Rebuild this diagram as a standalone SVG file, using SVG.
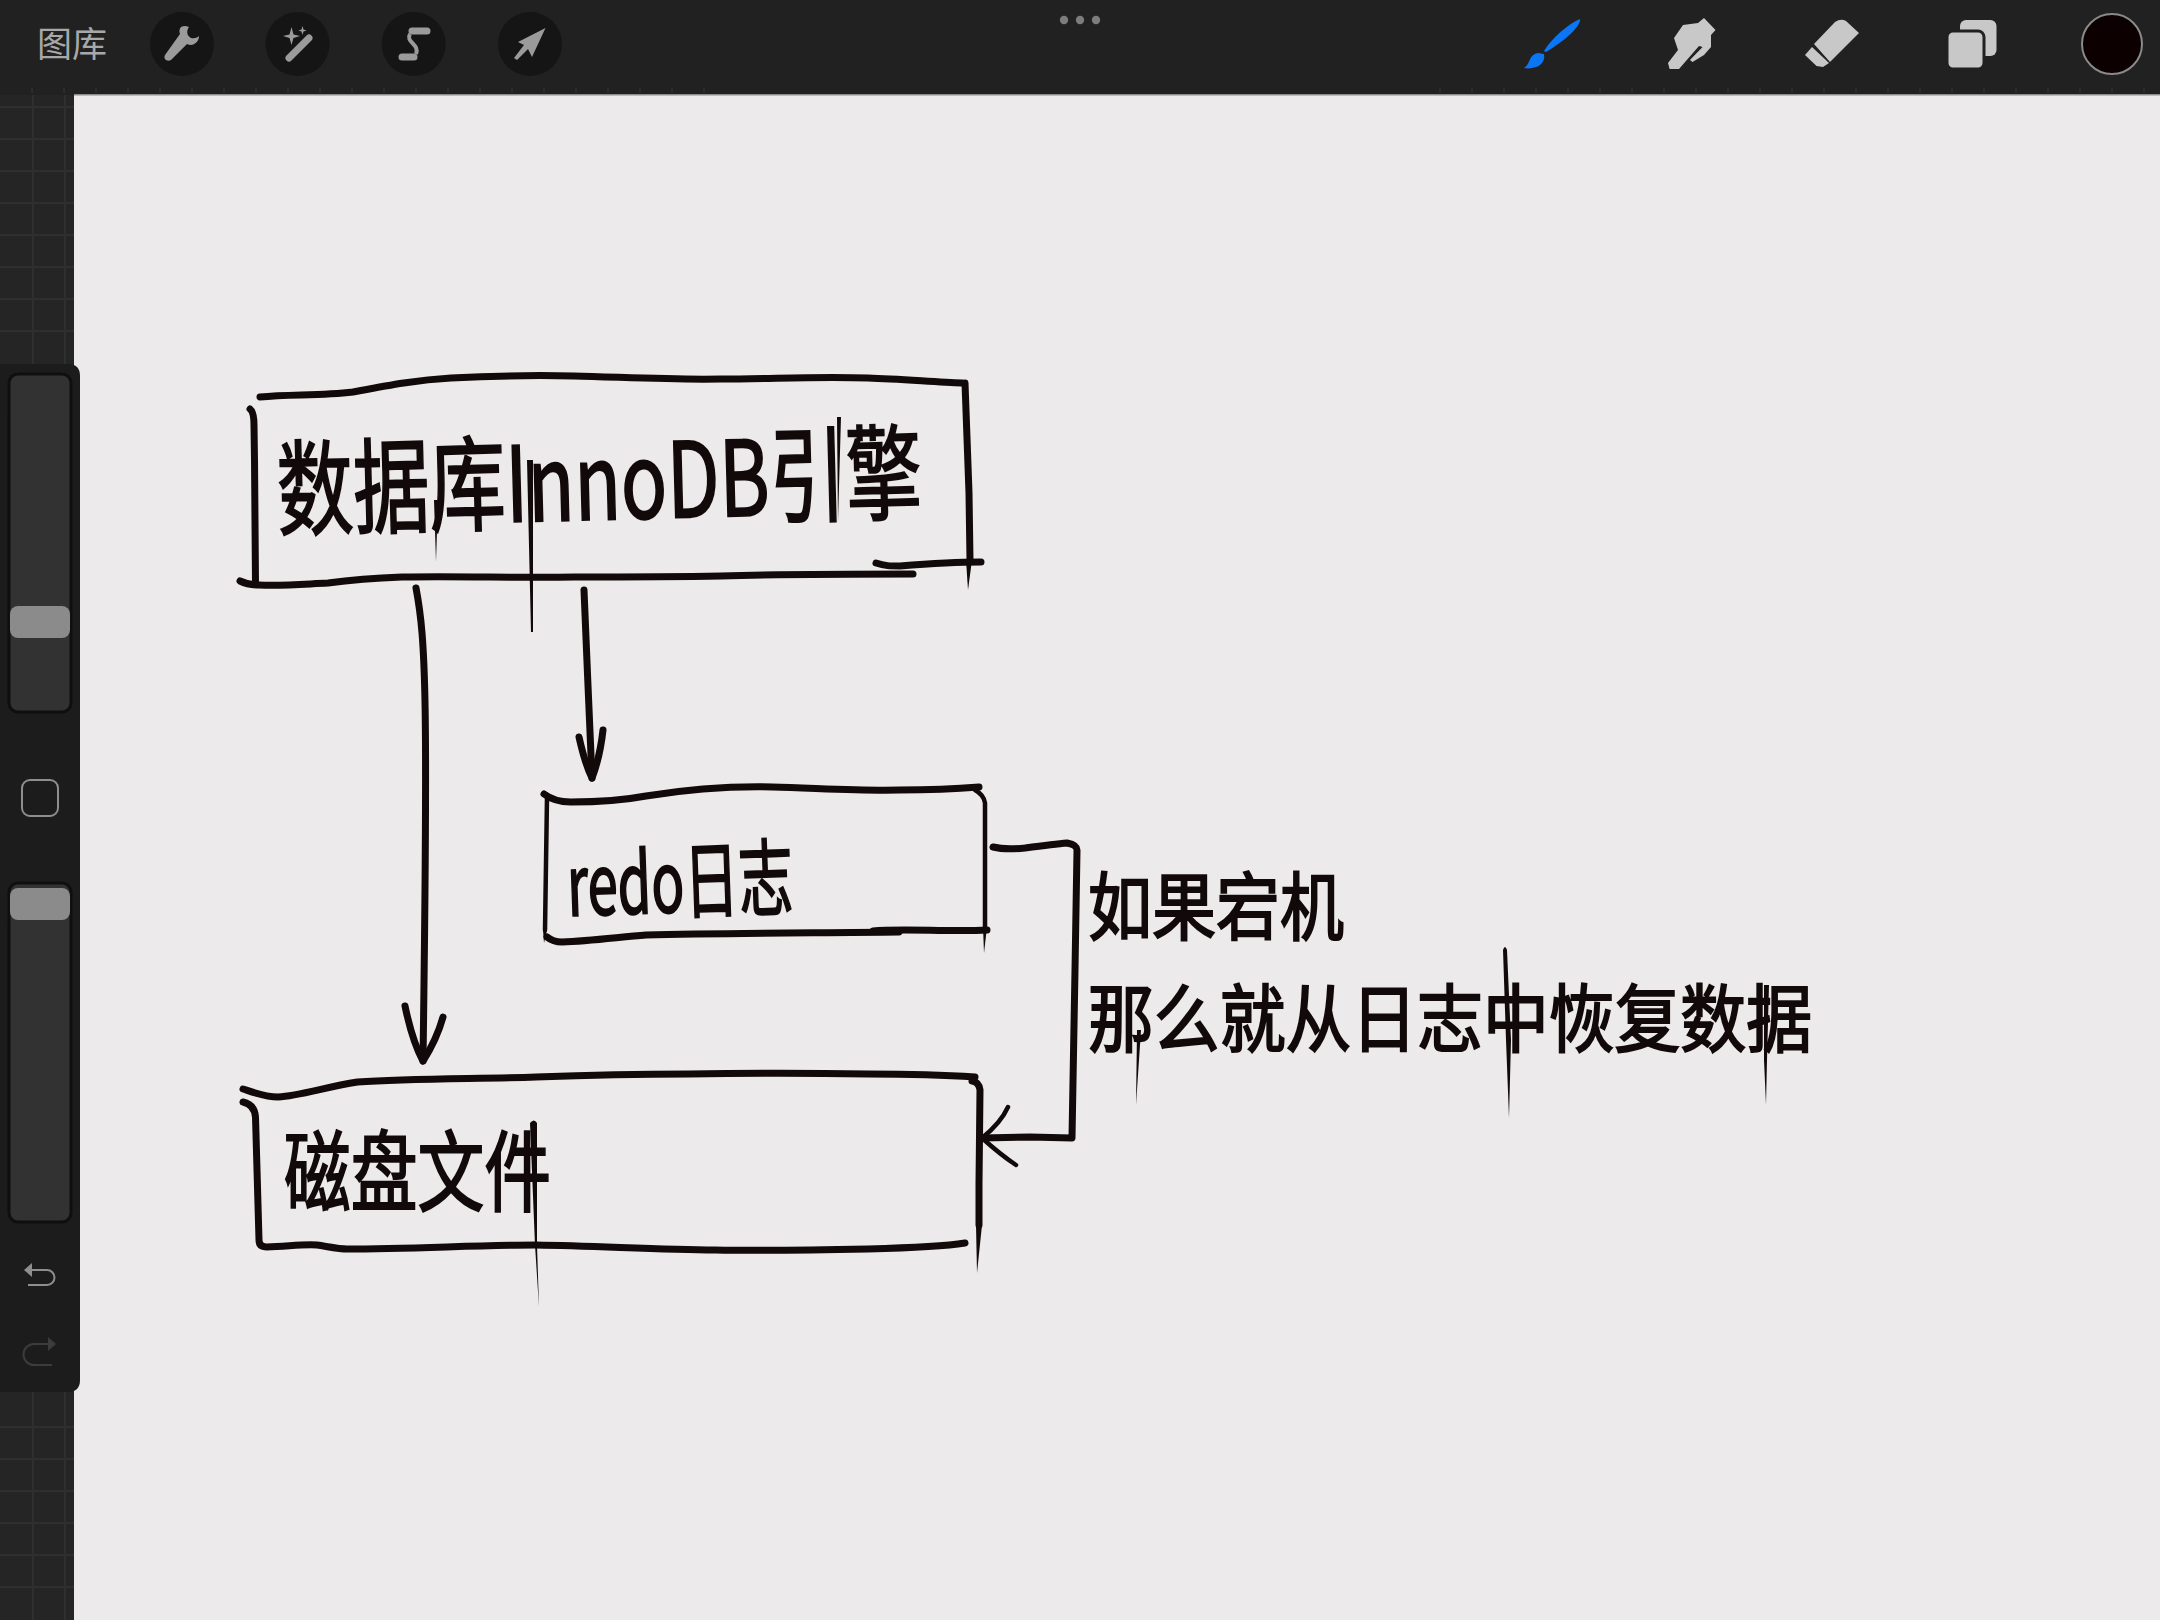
<svg xmlns="http://www.w3.org/2000/svg" width="2160" height="1620" viewBox="0 0 2160 1620">
<style>
.ink{fill:none;stroke:#120a0a;stroke-width:7;stroke-linecap:round;stroke-linejoin:round}
.thin{stroke-width:4.500}
.tail{fill:#120a0a}
.hand{font-family:"Noto Sans CJK SC","Noto Sans",sans-serif;font-weight:400;fill:#120a0a;stroke:#120a0a;stroke-width:2}
.grid{stroke:#2f2f2f;stroke-width:2;fill:none}
.tick{stroke:#303030;stroke-width:1.5;fill:none}
.ico{fill:#9b9b9b}
.btn{fill:#151515}
.lite{fill:#c8c8c8}
.track{fill:#323232;stroke:#0f0f0f;stroke-width:3}
.thumb{fill:#8b8b8b}
</style>
<rect width="2160" height="1620" fill="#ecEaEb"/>
<g id="left-strip">
<rect x="0" y="95" width="74" height="1525" fill="#252525"/>
<path class="grid" d="M33 95V1620M65 95V1620M0 107H74M0 139H74M0 171H74M0 203H74M0 235H74M0 267H74M0 299H74M0 331H74M0 1427H74M0 1459H74M0 1491H74M0 1523H74M0 1555H74M0 1587H74"/>
</g>
<g id="top-bar">
<rect width="2160" height="95" fill="#212121"/>
<rect x="74" y="94" width="2086" height="1.500" fill="#8d8d8d"/>
<path class="tick" d="M32 88V93M64 88V93M96 88V93M128 88V93M160 88V93M192 88V93M224 88V93M256 88V93M288 88V93M320 88V93M352 88V93M384 88V93M416 88V93M448 88V93M480 88V93M512 88V93M544 88V93M576 88V93M608 88V93M640 88V93M672 88V93M704 88V93M1440 88V93M1472 88V93M1504 88V93M1536 88V93M1568 88V93M1600 88V93M1632 88V93M1664 88V93M1696 88V93M1728 88V93M1760 88V93M1792 88V93M1824 88V93M1856 88V93M1888 88V93M1920 88V93M1952 88V93M1984 88V93M2016 88V93M2048 88V93M2080 88V93M2112 88V93M2144 88V93"/>
<text x="37" y="57" font-family="'Noto Sans CJK SC',sans-serif" font-size="35" fill="#a8a8a8">图库</text>
<circle class="btn" cx="182" cy="44" r="32"/>
<path class="ico" d="M165 55L180 34C178 28 182 24 189 27C186 31 187 36 191 38C195 39 198 37 199 36C199 42 193 47 187 44L171 60C167 62 163 59 165 55Z"/>
<circle class="btn" cx="297.500" cy="44" r="32"/>
<path class="ico" d="M291.500 27L293.500 34.500L300 36L293.500 38L291.500 45L289.500 38L283 36L289.500 34.500ZM302.500 26L303.500 29.500L306.500 30.500L303.500 31.500L302.500 35L301.500 31.500L298.500 30.500L301.500 29.500Z"/>
<path d="M289 58L309 38" stroke="#9b9b9b" stroke-width="7" stroke-linecap="round" fill="none"/>
<circle class="btn" cx="413.700" cy="44" r="32"/>
<path d="M412 31H427M402 57H414" stroke="#9b9b9b" stroke-width="7" stroke-linecap="round" fill="none"/>
<path d="M410 34C405 42 420 44 416 54" stroke="#9b9b9b" stroke-width="4" fill="none"/>
<circle class="btn" cx="530" cy="44" r="32"/>
<path class="ico" d="M545.500 28L532 57L528 49L517 60L514 58L524 45L518 42Z"/>
<circle cx="1064" cy="20" r="4.200" fill="#7d7d7d"/><circle cx="1080" cy="20" r="4.200" fill="#7d7d7d"/><circle cx="1096" cy="20" r="4.200" fill="#7d7d7d"/>
<path fill="#0a76f6" d="M1580 19C1581 26 1566 40 1546 52L1544 51C1552 38 1568 24 1580 19ZM1544 54C1546 64 1536 70 1524 68C1531 64 1528 55 1538 53Z"/>
<path class="lite" d="M1704 18L1715.500 30L1711 35L1711 47L1704 55L1692.500 62L1690 60L1702.600 47L1699 46L1679 69L1669.600 69L1668 63L1678 50L1674 38L1683 25L1698 23Z"/>
<path class="lite" d="M1835 22Q1841 18 1846 21L1859 33L1830 62L1814 44ZM1812 47L1829 63L1823 67L1816.500 66L1805 55Z"/>
<rect class="lite" x="1960" y="20" width="36.500" height="36" rx="6"/>
<rect class="lite" x="1947" y="31" width="37" height="38" rx="6" stroke="#212121" stroke-width="3"/>
<circle cx="2112" cy="44" r="30" fill="#0c0000" stroke="#8a8a8a" stroke-width="2"/>
</g>
<g id="side-bar">
<path d="M0 364H68Q80 364 80 376V1380Q80 1392 68 1392H0Z" fill="#1c1c1c"/>
<rect class="track" x="9" y="374" width="62" height="338" rx="9"/>
<rect class="thumb" x="10" y="606" width="60" height="32" rx="8"/>
<rect x="22" y="780" width="36" height="36" rx="8" fill="none" stroke="#8e8e8e" stroke-width="2"/>
<rect class="track" x="9" y="883" width="62" height="339" rx="9"/>
<rect class="thumb" x="10" y="888" width="60" height="32" rx="8"/>
<path d="M32 1263V1277L24 1270Z" fill="#8e8e8e"/>
<path d="M32 1270H47A7.500 7.500 0 0 1 47 1285H28" fill="none" stroke="#8e8e8e" stroke-width="2"/>
<path d="M48 1337V1351L56 1344Z" fill="#3c3c3c"/>
<path d="M48 1344H34A10 10 0 0 0 34 1365H52" fill="none" stroke="#3c3c3c" stroke-width="2"/>
</g>
<g id="connectors">
<path class="ink" d="M416 588C426 640 428 700 423 1061"/>
<path class="ink" d="M405 1006C410 1030 417 1050 423 1061C430 1050 438 1035 443 1017"/>
<path class="ink" d="M584 590C586 650 590 720 592 778"/>
<path class="ink" d="M579 737C583 755 587 768 592 778C597 765 601 748 603 730"/>
<path class="ink" d="M993 847C1005 850 1015 849 1025 848C1040 846 1055 844 1067 843Q1077 845 1077 850L1075 970L1072 1138L1030 1137L982 1138"/>
<path class="ink thin" d="M1008 1107C1003 1118 992 1130 982 1138C992 1147 1004 1157 1016 1165"/>
</g>
<g id="node-innodb">
<path class="ink" d="M260 397C290 394 320 396 353 392C385 386 415 380 451 378C490 376 530 375 574 376C620 377 670 380 721 379C770 379 820 376 868 378C900 379 935 382 962 383"/>
<path class="ink" d="M250 409Q254 412 254 425L254.500 460L255.500 583"/>
<path class="ink" d="M965 383L969 493L970 560"/>
<path class="tail" d="M966 560L972 560L968 590Z"/>
<path class="ink" d="M240 581Q248 585 259 585C285 586 305 584 328 583C350 580 375 578 402 577C460 576 520 578 574 577C620 577 670 577 721 576C790 574 850 574 913 574"/>
<path class="ink" d="M876 563C885 566 890 566 900 566C925 564 950 562 981 562"/>
<text class="hand" x="278" y="528" font-size="104" textLength="645" lengthAdjust="spacingAndGlyphs" transform="rotate(-1.500 278 528)">数据库InnoDB引擎</text>
<path class="tail" d="M527 460L533 460L533 632L531 632ZM434 500L438 500L436 562ZM837 417L841 417L838 522Z"/>
</g>
<g id="node-redo">
<path class="ink" d="M544 794C552 800 560 802 570.500 802C600 802 625 800 646 796C690 789 730 786 772.500 787C815 788 860 791 899 790C930 790 955 789 979 787"/>
<path class="ink thin" d="M975 790Q984 795 985 803L985 927"/>
<path class="tail" d="M983 927L987 927L984 953Z"/>
<path class="ink thin" d="M547 797L545 930"/>
<path class="tail" d="M543 930L547 930L544 943Z"/>
<path class="ink" d="M547 937C553 942 558 942 562 942C590 941 620 937 646 935C720 933 810 933 899 932"/>
<path class="ink" d="M873 931C900 928 950 932 987 930"/>
<text class="hand" x="568" y="916" font-size="84" textLength="226" lengthAdjust="spacingAndGlyphs" transform="rotate(-2 568 916)">redo日志</text>
</g>
<g id="node-disk">
<path class="ink" d="M243 1089C255 1093 265 1097 278 1097C300 1096 325 1087 357.500 1082C410 1078 480 1079 536 1077C590 1075 640 1074 689 1074C750 1073 810 1073 868 1074C905 1074 945 1075 975 1077"/>
<path class="ink" d="M972 1081Q979 1082 980 1090L979 1183L979 1225"/>
<path class="tail" d="M976 1225L982 1225L977 1273Z"/>
<path class="ink" d="M243 1102C252 1104 255 1110 255.500 1117L259 1240Q259 1247 267 1247C285 1247 300 1244 317 1245C330 1247 340 1249 347 1249C410 1249 480 1245 536 1245C600 1246 660 1250 715 1250C770 1251 820 1250 868 1249C905 1248 940 1247 965 1243"/>
<text class="hand" x="284" y="1204" font-size="88" textLength="267" lengthAdjust="spacingAndGlyphs">磁盘文件</text>
<path class="tail" d="M530 1123Q534 1118 537 1123L537 1245L539 1307L535 1245Z"/>
</g>
<g id="label-crash">
<text class="hand" x="1088" y="934" font-size="74" textLength="256" lengthAdjust="spacingAndGlyphs">如果宕机</text>
<text class="hand" x="1088" y="1046" font-size="74" textLength="724" lengthAdjust="spacingAndGlyphs">那么就从日志中恢复数据</text>
<path class="tail" d="M1137 1030L1141 1030L1136 1105ZM1503 950Q1505 944 1507 950L1511 1040L1509 1118L1506 1040ZM1764 985L1769 985L1767 1060L1766 1105L1764 1060Z"/>
</g>
</svg>
